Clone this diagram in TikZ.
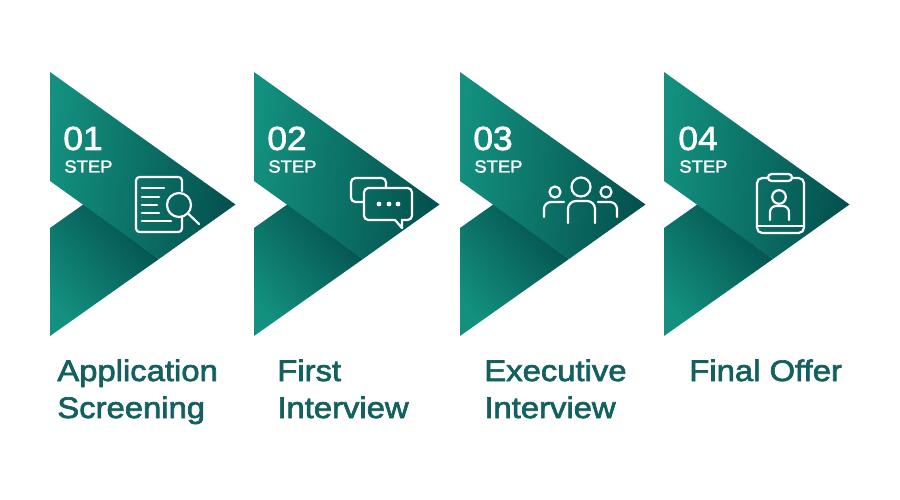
\documentclass[tikz,border=0pt]{standalone}
\usepackage{fontspec}
\setmainfont{Liberation Sans}
\newfontfamily\titlefont[FakeBold=2.3,FakeStretch=1.105]{Liberation Sans}
\newfontfamily\stepfont[FakeBold=1.8,FakeStretch=1.06]{Liberation Sans}
\definecolor{tealLight}{HTML}{13907F}
\definecolor{tealDark}{HTML}{04504E}
\definecolor{tealText}{HTML}{14605E}
\tikzset{
    upperArrow/.style={left color=tealLight, right color=tealDark, shading angle=84},
    lowerArrow/.style={left color=tealLight, right color=tealDark, shading angle=130},
    stepNumber/.style={anchor=base west, inner sep=0pt, text=white, font=\stepfont\fontsize{19}{19}\selectfont},
    stepWord/.style={anchor=base west, inner sep=0pt, text=white, font=\stepfont\fontsize{9.9}{9.9}\selectfont},
    stepTitle/.style={anchor=base west, inner sep=0pt, text=tealText, font=\titlefont\fontsize{16.9}{16.9}\selectfont},
    iconLine/.style={draw=white, line width=1.25pt, line cap=round, line join=round}
}
\begin{document}
\begin{tikzpicture}[x=0.02cm, y=-0.02cm]
    \useasboundingbox (0,0) rectangle (900,500);

    % Arrows and step numbers
    \foreach \xpos/\numx/\num in {50/63/01, 254/267/02, 460/473/03, 664/678/04} {
        \begin{scope}[shift={(\xpos,0)}]
            \shade[lowerArrow] (0,228) -- (34,204) -- (109,259) -- (0,336) -- cycle;
            \shade[upperArrow] (0,72) -- (185.5,204.5) -- (109,259) -- (0,181) -- cycle;
        \end{scope}
        \node[stepNumber] (num\num) at (\numx,150) {\num};
        \node[stepWord] (word\num) at (\numx+1,172.5) {STEP};
    }

    % Search icon
    \draw[iconLine, rounded corners=2pt] (182,191) -- (182,177) -- (136,177) -- (136,232) -- (182,232) -- (182,217);
    \foreach \ypos/\xend in {188/164, 197/159, 205/157, 213/159, 221/171} {
        \draw[iconLine] (142,\ypos) -- (\xend,\ypos);
    }
    \draw[iconLine] (179,205) circle (12);
    \draw[iconLine] (188,213.5) -- (199,224);

    % Chat icon
    \draw[iconLine, rounded corners=2.5pt] (386,188) -- (386,178) -- (351,178) -- (351,202) -- (364,202);
    \draw[iconLine, rounded corners=2.5pt] (395,220) -- (364,220) -- (364,188) -- (412,188) -- (412,220) -- (402,220);
    \draw[iconLine] (395,220) -- (402,228) -- (402,220);
    \foreach \xpos in {379, 389, 398} {
        \fill[white] (\xpos,204) circle (2.4);
    }

    % People icon
    \draw[iconLine] (581,187) circle (9.5);
    \draw[iconLine, rounded corners=4.5pt] (568,223) -- (568,201) -- (595,201) -- (595,223);
    \draw[iconLine] (555,192) circle (5.5);
    \draw[iconLine, rounded corners=4pt] (544,217) -- (544,202) -- (564,202);
    \draw[iconLine] (606,192) circle (5.5);
    \draw[iconLine, rounded corners=4pt] (617,217) -- (617,202) -- (598,202);

    % Badge icon
    \draw[iconLine, rounded corners=3pt] (768,178) -- (757,178) -- (757,233) -- (804,233) -- (804,178) -- (792,178);
    \draw[iconLine, rounded corners=2pt] (768,174) rectangle (792,181);
    \draw[iconLine] (779,197) circle (6.8);
    \draw[iconLine, rounded corners=3.5pt] (770,220) -- (770,206) -- (789,206) -- (789,220);
    \draw[iconLine] (757,226) -- (804,226);

    % Titles
    \node[stepTitle] (title1a) at (57,381) {Application};
    \node[stepTitle] (title1b) at (57,418) {Screening};
    \node[stepTitle] (title2a) at (277,381) {First};
    \node[stepTitle] (title2b) at (277,418) {Interview};
    \node[stepTitle] (title3a) at (484,381) {Executive};
    \node[stepTitle] (title3b) at (484,418) {Interview};
    \node[stepTitle] (title4a) at (689,381) {Final Offer};
\end{tikzpicture}
\end{document}
